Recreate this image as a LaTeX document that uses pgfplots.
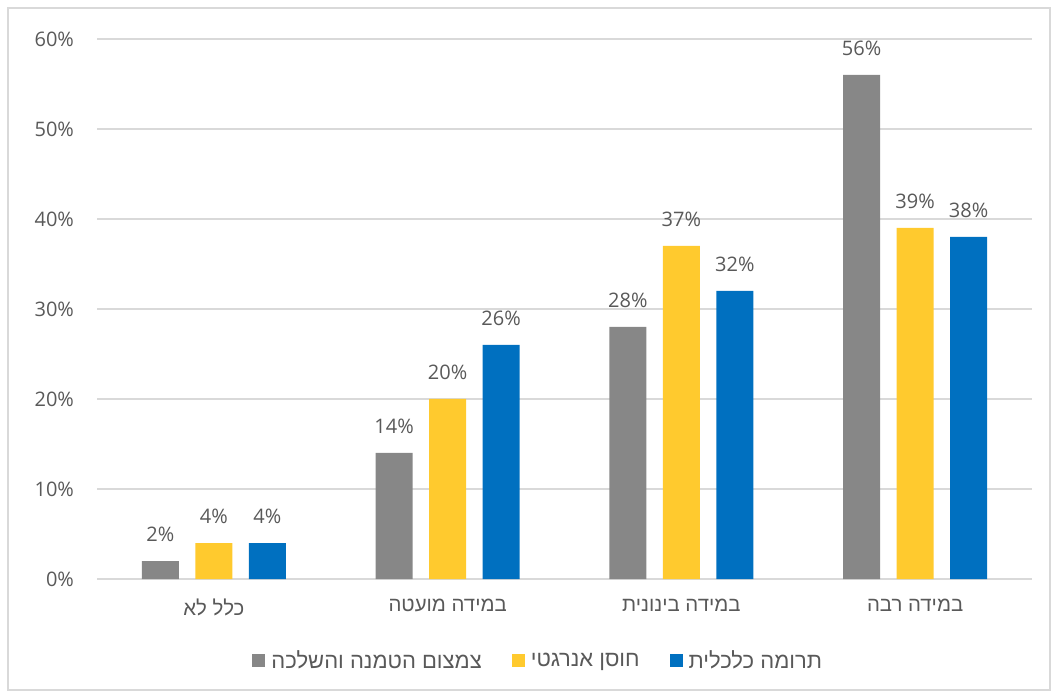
\documentclass[border=0pt]{standalone}
\usepackage{pgfplots}
\pgfplotsset{compat=1.18}
\usepackage{fontspec}
\setmainfont{Open Sans}
\newfontfamily\hebfont[Script=Hebrew]{Liberation Sans}
\TeXXeTstate=1
\definecolor{cgray}{HTML}{878787}
\definecolor{cyellow}{HTML}{FFCA2E}
\definecolor{cblue}{HTML}{0070C0}
\definecolor{ctext}{HTML}{595959}
\definecolor{cgrid}{HTML}{D9D9D9}
\begin{document}
\begin{tikzpicture}
\path[use as bounding box] (0,0) rectangle (529.5pt,348pt);
\draw[cgrid, line width=0.6pt] (4pt,3pt) rectangle (525pt,344pt);
\begin{axis}[
  at={(48.5pt,58.5pt)}, anchor=south west,
  scale only axis, width=467.5pt, height=270pt,
  ybar=8.25pt, bar width=18.5pt,
  xmin=-0.5, xmax=3.5, ymin=0, ymax=60,
  xtick={0,1,2,3},
  xticklabels={{\hebfont\beginR כלל לא\endR},{\hebfont\beginR במידה מועטה\endR},{\hebfont\beginR במידה בינונית\endR},{\hebfont\beginR במידה רבה\endR}},
  ytick={0,10,20,30,40,50,60},
  yticklabels={0\%,10\%,20\%,30\%,40\%,50\%,60\%},
  ymajorgrids, grid style={cgrid, line width=0.6pt},
  axis x line*=bottom, axis y line*=left,
  y axis line style={draw=none},
  x axis line style={cgrid, line width=0.8pt, -},
  major tick length=0pt,
  yticklabel style={font=\fontsize{10pt}{12pt}\selectfont, text=ctext, xshift=-8pt},
  xticklabel style={font=\fontsize{10.2pt}{12pt}\selectfont, text=ctext, yshift=-6.5pt},
  /pgf/number format/assume math mode=true,
  nodes near coords={\pgfmathprintnumber{\pgfplotspointmeta}\%},
  nodes near coords style={font=\fontsize{10pt}{12pt}\selectfont, text=ctext, yshift=6pt},
  legend columns=3,
  legend style={at={(0.473,-0.152)}, anchor=center, draw=none, fill=none,
    font=\fontsize{11pt}{12pt}\selectfont, text=ctext,
    /tikz/every odd column/.append style={column sep=1pt},
    /tikz/every even column/.append style={column sep=13pt}},
  legend image code/.code={\fill[#1] (0pt,-3pt) rectangle (6.5pt,3.5pt);},
]
\addplot[fill=cgray, draw=none] coordinates {(0,2) (1,14) (2,28) (3,56)};
\addplot[fill=cyellow, draw=none] coordinates {(0,4) (1,20) (2,37) (3,39)};
\addplot[fill=cblue, draw=none] coordinates {(0,4) (1,26) (2,32) (3,38)};
\legend{{\hebfont\beginR צמצום הטמנה והשלכה\endR},{\hebfont\beginR חוסן אנרגטי\endR},{\hebfont\beginR תרומה כלכלית\endR}}
\end{axis}
\end{tikzpicture}
\end{document}
